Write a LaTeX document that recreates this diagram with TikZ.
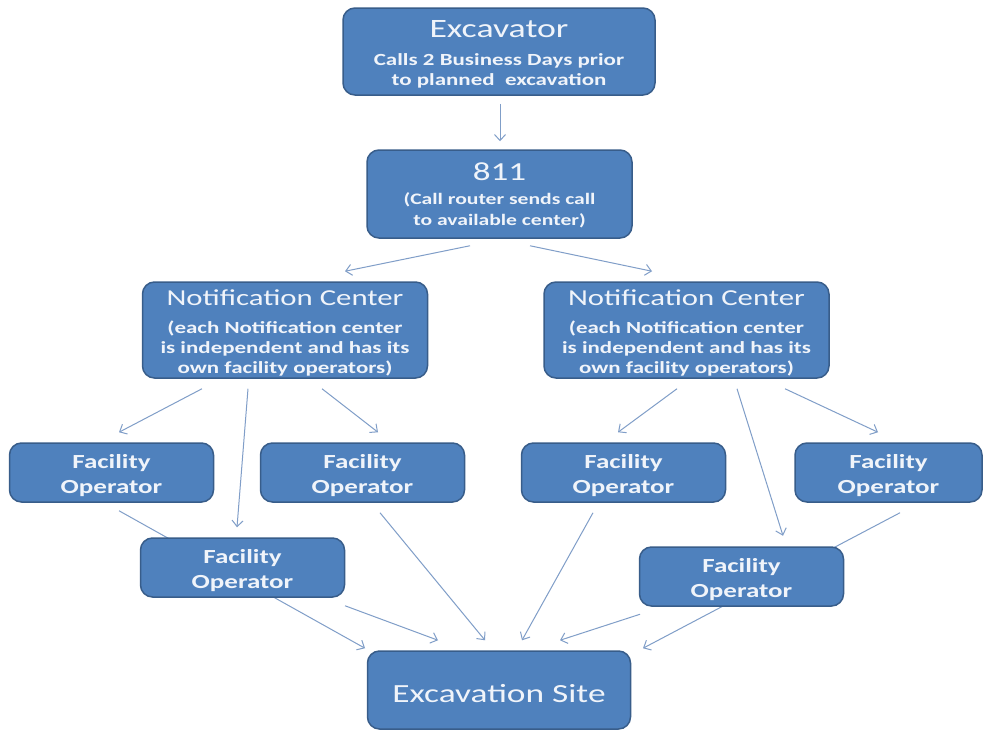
\documentclass[tikz,border=0pt]{standalone}
\usepackage{fontspec}
\setmainfont{Carlito}[FakeStretch=1.35]
\usetikzlibrary{arrows.meta,calc,backgrounds}
\definecolor{boxfill}{RGB}{79,129,189}
\definecolor{boxline}{RGB}{56,93,138}
\definecolor{arrowc}{RGB}{128,158,200}
\definecolor{txt}{RGB}{240,244,250}
\newcommand{\fsz}[2]{\fontsize{#1}{#2}\selectfont}
\newcommand{\strt}[1]{\rule{0pt}{#1}}
\tikzset{
  box/.style={draw=boxline, line width=1.5pt, fill=boxfill, rounded corners=12pt,
    text=txt, align=center, inner sep=0pt},
  arr/.style={draw=arrowc, line width=1pt, -{Straight Barb[length=6pt,width=11pt]}},
  fobox/.style={box, minimum width=204pt, minimum height=59pt,
    font=\bfseries\fsz{20}{25}},
  ncbox/.style={box, minimum width=285pt, minimum height=96pt,
    font=\bfseries\fsz{17}{20}}
}
\begin{document}
\begin{tikzpicture}[x=1pt,y=-1pt]
\useasboundingbox (0,0) rectangle (988,736);

\node[box, minimum width=312pt, minimum height=87pt, font=\bfseries\fsz{17}{20}] (exc) at (499,51.5)
  {\strt{22.5pt}{\mdseries\fsz{26.5}{26.5}Excavator}\\[8pt]Calls 2 Business Days prior\\to planned\ \ excavation};
\node[box, minimum width=265pt, minimum height=88pt, font=\bfseries\fsz{16}{21}] (n811) at (499.5,194)
  {\strt{21pt}{\mdseries\fsz{26}{26}811}\\[3pt](Call router sends call\\to available center)};
\node[ncbox] (ncl) at (285,330)
  {\strt{22.3pt}{\mdseries\fsz{22.8}{22.8}Notification Center}\\[8pt](each Notification center\\is independent and has its\\own facility operators)};
\node[ncbox] (ncr) at (686.5,330)
  {\strt{22.3pt}{\mdseries\fsz{22.8}{22.8}Notification Center}\\[8pt](each Notification center\\is independent and has its\\own facility operators)};
\node[fobox] (fo1) at (111.5,472.5) {\strt{20pt}Facility\\Operator};
\node[fobox] (fo2) at (362.5,472.5) {\strt{20pt}Facility\\Operator};
\node[fobox] (fo3) at (623.5,472.5) {\strt{20pt}Facility\\Operator};
\node[fobox, minimum width=187pt] (fo4) at (888.5,472.5) {\strt{20pt}Facility\\Operator};
\node[fobox] (fo5) at (242.5,567.5) {\strt{20pt}Facility\\Operator};
\node[fobox] (fo6) at (741.5,576.5) {\strt{20pt}Facility\\Operator};
\node[box, minimum width=263pt, minimum height=78pt, font=\fsz{26.2}{26.2}] (site) at (499,690) {\strt{26pt}Excavation Site};

\begin{scope}[on background layer]
\fill[white] (0,0) rectangle (988,736);
\draw[arr] ($(exc.south)+(1,8)$) -- ($(n811.north)+(0.5,-8)$);
\draw[arr] ($(n811.south)+(-29.5,7)$) -- ($(ncl.north)+(60,-10)$);
\draw[arr] ($(n811.south)+(30.5,7)$) -- ($(ncr.north)+(-34.5,-10)$);
\draw[arr] ($(ncl.south)+(-83,10)$) -- ($(fo1.north)+(7.5,-10)$);
\draw[arr] ($(ncl.south)+(-37,10)$) -- ($(fo5.north)+(-5.5,-10)$);
\draw[arr] ($(ncl.south)+(37,10)$) -- ($(fo2.north)+(15.5,-10)$);
\draw[arr] ($(ncr.south)+(-9.5,10)$) -- ($(fo3.north)+(-5.5,-10)$);
\draw[arr] ($(ncr.south)+(50.5,10)$) -- ($(fo6.north)+(41.5,-10.5)$);
\draw[arr] ($(ncr.south)+(98.5,10)$) -- ($(fo4.north)+(-10.5,-10)$);
\draw[arr] ($(fo1.south)+(7.5,8)$) -- ($(site.north)+(-134,-2)$);
\draw[arr] ($(fo5.south)+(102.5,8)$) -- ($(site.north)+(-61,-10)$);
\draw[arr] ($(fo2.south)+(17.5,10)$) -- ($(site.north)+(-14,-10)$);
\draw[arr] ($(fo3.south)+(-30.5,10)$) -- ($(site.north)+(23,-10)$);
\draw[arr] ($(fo6.south)+(-101.5,7.5)$) -- ($(site.north)+(61,-10)$);
\draw[arr] ($(fo4.south)+(11.5,10)$) -- ($(site.north)+(144,-2)$);
\end{scope}
\end{tikzpicture}
\end{document}
